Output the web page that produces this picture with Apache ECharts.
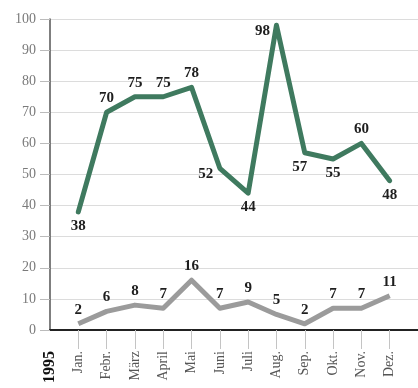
<!DOCTYPE html>
<html>
<head>
<meta charset="utf-8">
<script src="https://cdn.jsdelivr.net/npm/echarts@6/dist/echarts.min.js"></script>
<style>
  html, body { margin: 0; padding: 0; background: #fff; }
  #chart { width: 418px; height: 388px; }
</style>
</head>
<body>
<div id="chart"></div>
<script>
// Monthly figures for 1995
const yearLabel = '1995';
const months = ['Jan.', 'Febr.', 'März', 'April', 'Mai', 'Juni', 'Juli', 'Aug.', 'Sep.', 'Okt.', 'Nov.', 'Dez.'];
const upperValues = [38, 70, 75, 75, 78, 52, 44, 98, 57, 55, 60, 48];
const lowerValues = [2, 6, 8, 7, 16, 7, 9, 5, 2, 7, 7, 11];
const upperLabelPos = ['bottom', 'top', 'top', 'top', 'top', 'left', 'bottom', 'left', 'bottom', 'bottom', 'top', 'bottom'];
const yTicks = [0, 10, 20, 30, 40, 50, 60, 70, 80, 90, 100];

const serif = '"Liberation Serif", "DejaVu Serif", serif';

// Slot 0 holds the year under the axis origin, a trailing empty slot lets the grid run past December
const categories = [yearLabel].concat(months, ['']);

function buildData(values, positions) {
  const items = [null];
  values.forEach((v, i) => {
    const item = { value: v };
    if (positions) {
      const pos = positions[i];
      item.label = { position: pos };
      if (pos === 'left') item.label.offset = [0, 6];
      if (i === 8) item.label.offset = [-5, 0];
    }
    items.push(item);
  });
  items.push(null);
  return items;
}

const labelStyle = {
  show: true,
  fontFamily: serif,
  fontWeight: 'bold',
  fontSize: 15,
  color: '#1e1e1e',
  distance: 6
};

const chart = echarts.init(document.getElementById('chart'), null, { renderer: 'canvas' });
chart.setOption({
  animation: false,
  backgroundColor: '#ffffff',
  grid: { left: 50, right: -14.4, top: 19, bottom: 58, containLabel: false },
  xAxis: {
    type: 'category',
    data: categories,
    boundaryGap: false,
    axisLine: { show: true, lineStyle: { color: '#222', width: 2 } },
    axisTick: {
      show: true,
      length: 19,
      interval: (idx) => idx > 0,
      lineStyle: { color: '#c4c4c4', width: 1 }
    },
    axisLabel: {
      rotate: 90,
      interval: 0,
      margin: 21,
      fontFamily: serif,
      fontSize: 14,
      color: '#555',
      formatter: (v, idx) => idx === 0 ? '{y|' + v + '}' : v,
      rich: {
        y: { fontFamily: serif, fontWeight: 'bold', fontSize: 16, color: '#111' }
      }
    },
    splitLine: { show: false }
  },
  yAxis: {
    type: 'value',
    min: yTicks[0],
    max: yTicks[yTicks.length - 1],
    interval: 10,
    axisLine: { show: true, lineStyle: { color: '#555', width: 1.5 } },
    axisTick: { show: true, length: 10, lineStyle: { color: '#bbb', width: 1 } },
    axisLabel: {
      margin: 14,
      fontFamily: serif,
      fontSize: 14,
      color: '#7a7a7a'
    },
    splitLine: { show: true, lineStyle: { color: '#dcdcdc', width: 1 } }
  },
  series: [
    {
      type: 'line',
      data: buildData(upperValues, upperLabelPos),
      symbol: 'circle',
      symbolSize: 1,
      showSymbol: true,
      itemStyle: { color: 'rgba(0,0,0,0)' },
      lineStyle: { color: '#3f7a5f', width: 5, join: 'round', cap: 'round' },
      label: labelStyle,
      z: 3
    },
    {
      type: 'line',
      data: buildData(lowerValues, null),
      symbol: 'circle',
      symbolSize: 1,
      showSymbol: true,
      itemStyle: { color: 'rgba(0,0,0,0)' },
      lineStyle: { color: '#9b9b9b', width: 5, join: 'round' },
      label: Object.assign({}, labelStyle, { position: 'top' }),
      z: 2
    }
  ]
});
</script>
</body>
</html>
